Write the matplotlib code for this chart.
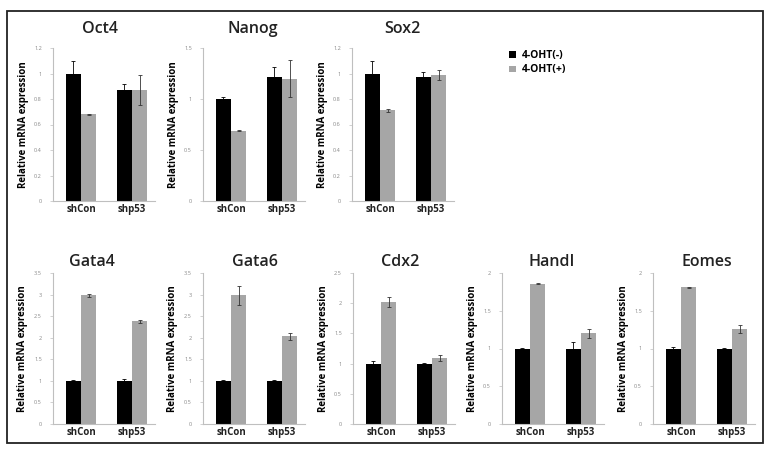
import matplotlib.pyplot as plt
from matplotlib.patches import Rectangle, Patch

plt.rcParams['font.family'] = ['Open Sans', 'DejaVu Sans']

groups = ['shCon', 'shp53']
legend_labels = ['4-OHT(-)', '4-OHT(+)']

genes_top = ['Oct4', 'Nanog', 'Sox2']
genes_bottom = ['Gata4', 'Gata6', 'Cdx2', 'HandI', 'Eomes']

# values per gene: [shCon, shp53]
minus_vals = {
    'Oct4': [1.0, 0.87], 'Nanog': [1.0, 1.22], 'Sox2': [1.0, 0.97],
    'Gata4': [1.0, 1.0], 'Gata6': [1.0, 1.0], 'Cdx2': [1.0, 1.0],
    'HandI': [1.0, 1.0], 'Eomes': [1.0, 1.0],
}
minus_err = {
    'Oct4': [0.10, 0.05], 'Nanog': [0.02, 0.09], 'Sox2': [0.10, 0.04],
    'Gata4': [0.02, 0.05], 'Gata6': [0.01, 0.01], 'Cdx2': [0.05, 0.01],
    'HandI': [0.01, 0.08], 'Eomes': [0.02, 0.005],
}
plus_vals = {
    'Oct4': [0.68, 0.87], 'Nanog': [0.69, 1.20], 'Sox2': [0.71, 0.99],
    'Gata4': [2.98, 2.38], 'Gata6': [2.98, 2.03], 'Cdx2': [2.02, 1.10],
    'HandI': [1.86, 1.20], 'Eomes': [1.81, 1.26],
}
plus_err = {
    'Oct4': [0.005, 0.12], 'Nanog': [0.005, 0.18], 'Sox2': [0.01, 0.04],
    'Gata4': [0.04, 0.03], 'Gata6': [0.22, 0.08], 'Cdx2': [0.08, 0.05],
    'HandI': [0.01, 0.06], 'Eomes': [0.01, 0.05],
}
y_max = {'Oct4': 1.2, 'Nanog': 1.5, 'Sox2': 1.2, 'Gata4': 3.5, 'Gata6': 3.5,
         'Cdx2': 2.5, 'HandI': 2.0, 'Eomes': 2.0}
y_step = {'Oct4': 0.2, 'Nanog': 0.5, 'Sox2': 0.2, 'Gata4': 0.5, 'Gata6': 0.5,
          'Cdx2': 0.5, 'HandI': 0.5, 'Eomes': 0.5}

W, H = 778, 449
fig = plt.figure(figsize=(W / 100, H / 100), dpi=100)

# outer frame
fig.patches.append(Rectangle((7 / W, 1 - 443 / H), 756 / W, 432 / H, transform=fig.transFigure,
                             fill=False, edgecolor='#222222', linewidth=1.3))

black = '#000000'
gray = '#a6a6a6'
spine_c = '#bfbfbf'


def fmt(v):
    s = ('%.1f' % v)
    return s[:-2] if s.endswith('.0') else s


def draw(gene, left_px, top_px, bottom_px, title_x_px, title_y_px):
    ax = fig.add_axes([left_px / W, 1 - bottom_px / H, 102 / W, (bottom_px - top_px) / H])
    x = range(len(groups))
    bw = 0.3
    ax.bar([i - bw / 2 + 0.05 for i in x], minus_vals[gene], bw, color=black,
           yerr=minus_err[gene], error_kw=dict(ecolor='black', elinewidth=0.6, capsize=1.5, capthick=0.6))
    ax.bar([i + bw / 2 + 0.05 for i in x], plus_vals[gene], bw, color=gray,
           yerr=plus_err[gene], error_kw=dict(ecolor='#333333', elinewidth=0.6, capsize=1.5, capthick=0.6))
    ax.set_xlim(-0.5, 1.5)
    ax.set_ylim(0, y_max[gene])
    n = int(round(y_max[gene] / y_step[gene]))
    ticks = [y_step[gene] * k for k in range(n + 1)]
    ax.set_yticks(ticks)
    ax.set_yticklabels([fmt(t) for t in ticks], fontsize=4, color='#888888')
    ax.set_xticks([i + 0.05 for i in x])
    ax.set_xticklabels(groups, fontsize=7, fontweight='bold', color='#222222')
    ax.tick_params(axis='x', length=0, pad=2)
    ax.tick_params(axis='y', length=2, width=0.5, color=spine_c, pad=6)
    for s in ['top', 'right']:
        ax.spines[s].set_visible(False)
    for s in ['left', 'bottom']:
        ax.spines[s].set_color(spine_c)
        ax.spines[s].set_linewidth(0.8)
    ax.set_ylabel('Relative mRNA expression', fontsize=7, fontweight='bold', labelpad=4)
    fig.text(title_x_px / W, 1 - title_y_px / H, gene, fontsize=11.5, ha='center', va='center',
             color='#222222', fontweight='semibold')
    return ax


top_lefts = [53, 203, 352]
top_titles = [100, 253, 402]
for g, l, t in zip(genes_top, top_lefts, top_titles):
    draw(g, l, 48, 201, t, 29)

bottom_lefts = [53, 203, 353, 502, 653]
bottom_titles = [92, 255, 400, 552, 707]
for g, l, t in zip(genes_bottom, bottom_lefts, bottom_titles):
    draw(g, l, 273, 424, t, 262)

handles = [Patch(facecolor=black), Patch(facecolor=gray)]
leg = fig.legend(handles, legend_labels, loc='upper left', bbox_to_anchor=(500 / W, 1 - 41 / H),
                 frameon=False, fontsize=7.5, handlelength=0.6, handleheight=0.6,
                 handletextpad=0.6, labelspacing=0.3)
for t in leg.get_texts():
    t.set_fontweight('bold')

fig.savefig('out.png', dpi=100)
